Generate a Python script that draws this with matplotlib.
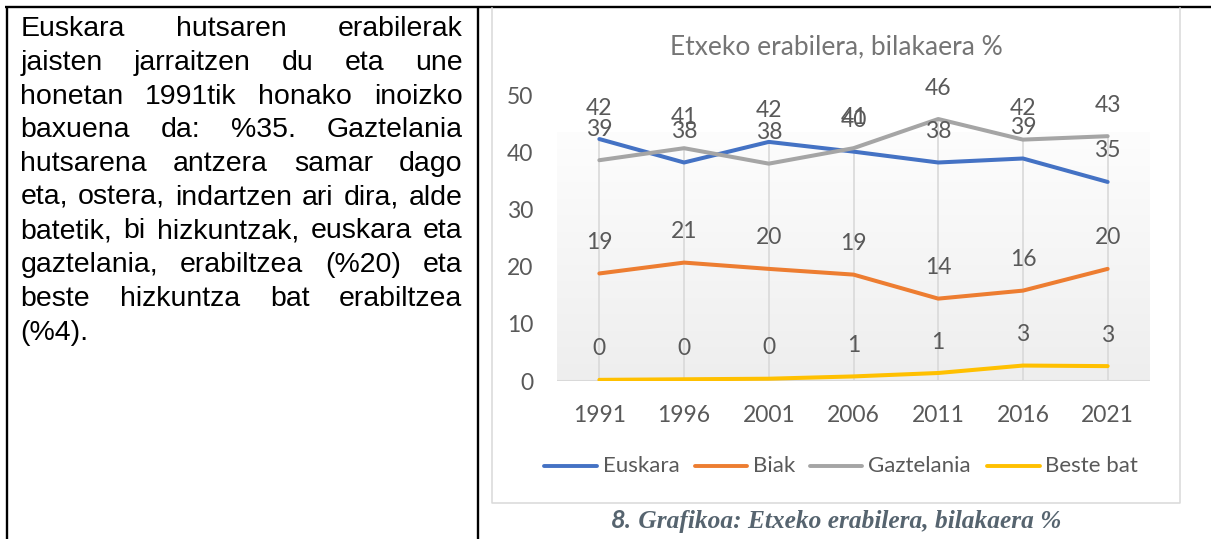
import numpy as np
import matplotlib
matplotlib.use("Agg")
import matplotlib.pyplot as plt
from matplotlib.lines import Line2D
from matplotlib.colors import to_rgb

# ---------------- data ----------------
years = ["1991", "1996", "2001", "2006", "2011", "2016", "2021"]
series_names = ["Euskara", "Biak", "Gaztelania", "Beste bat"]
euskara = [42.3, 38.2, 41.8, 40.1, 38.2, 38.9, 34.8]
biak = [18.8, 20.7, 19.6, 18.6, 14.4, 15.8, 19.6]
gaztelania = [38.6, 40.7, 38.0, 40.7, 45.8, 42.2, 42.8]
beste_bat = [0.2, 0.3, 0.4, 0.8, 1.4, 2.7, 2.6]
yticks = [0, 10, 20, 30, 40, 50]
chart_title = "Etxeko erabilera, bilakaera %"
caption_num = "8."
caption_text = " Grafikoa: Etxeko erabilera, bilakaera %"
body_lines = [
    "Euskara hutsaren erabilerak",
    "jaisten jarraitzen du eta une",
    "honetan 1991tik honako inoizko",
    "baxuena da: %35. Gaztelania",
    "hutsarena antzera samar dago",
    "eta, ostera, indartzen ari dira, alde",
    "batetik, bi hizkuntzak, euskara eta",
    "gaztelania, erabiltzea (%20) eta",
    "beste hizkuntza bat erabiltzea",
    "(%4).",
]

colors = ["#4472C4", "#ED7D31", "#A5A5A5", "#FFC000"]
all_series = [euskara, biak, gaztelania, beste_bat]

W, H = 1211, 539
fig = plt.figure(figsize=(W / 100, H / 100), dpi=100)
fig.patch.set_facecolor("white")

# overlay axes in pixel coordinates
ov = fig.add_axes([0, 0, 1, 1])
ov.set_xlim(0, W)
ov.set_ylim(H, 0)
ov.axis("off")
ov.set_zorder(5)
ov.patch.set_alpha(0)

# table lines
tbl_lw = 1.7
ov.plot([5, W], [6.5, 6.5], color="black", lw=tbl_lw, solid_capstyle="butt")
ov.plot([6.5, 6.5], [5.5, H], color="black", lw=tbl_lw, solid_capstyle="butt")
ov.plot([477.5, 477.5], [5.5, H], color="black", lw=tbl_lw, solid_capstyle="butt")

# chart frame
ov.plot([492, 492, 1180, 1180], [8, 503, 503, 8], color="#D9D9D9", lw=1.1)

# body text (justified)
renderer = fig.canvas.get_renderer()
body_font = dict(fontsize=20.5, family="Liberation Sans", color="black")
x0, x1 = 20.5, 462.5
y_base0, dy = 36.2, 33.7
for i, line in enumerate(body_lines):
    y = y_base0 + i * dy
    words = line.split()
    if i == len(body_lines) - 1 or len(words) == 1:
        ov.text(x0, y, line, va="baseline", ha="left", **body_font)
        continue
    widths = []
    for w in words:
        t = ov.text(0, 0, w, **body_font)
        widths.append(t.get_window_extent(renderer).width)
        t.remove()
    gap = (x1 - x0 - sum(widths)) / (len(words) - 1)
    x = x0
    for w, wd in zip(words, widths):
        ov.text(x, y, w, va="baseline", ha="left", **body_font)
        x += wd + gap

# chart title
ov.text(836, 47, chart_title, ha="center", va="center", fontsize=19,
        family="Lato", color="#757575")

# legend
leg_items = [(544, 597, 603), (695, 747, 753), (810, 862, 868), (987, 1040, 1045)]
for (lx0, lx1, tx), name, c in zip(leg_items, series_names, colors):
    ov.add_line(Line2D([lx0, lx1], [466, 466], color=c, lw=2.8, solid_capstyle="round"))
    ov.text(tx, 466, name, ha="left", va="center", fontsize=16, family="Lato",
            color="#595959")

# caption
cap_font_color = "#56646F"
cap_fs = 18.3
t1 = ov.text(0, 0, caption_num, fontsize=cap_fs, family="Lato", fontweight="bold",
             style="italic", color=cap_font_color)
t2 = ov.text(0, 0, caption_text, fontsize=cap_fs, family="Liberation Serif",
             fontweight="bold", style="italic", color=cap_font_color)
w1 = t1.get_window_extent(renderer).width
w2 = t2.get_window_extent(renderer).width
t1.remove(); t2.remove()
cx0 = 836 - (w1 + w2) / 2
cap_y = 528
ov.text(cx0, cap_y, caption_num, ha="left", va="baseline", fontsize=cap_fs, family="Lato",
        fontweight="bold", style="italic", color=cap_font_color)
ov.text(cx0 + w1, cap_y, caption_text, ha="left", va="baseline", fontsize=cap_fs,
        family="Liberation Serif", fontweight="bold", style="italic", color=cap_font_color)

# ---------------- chart axes ----------------
pl, pr, pt, pb = 557, 1150, 95, 381
ax = fig.add_axes([pl / W, (H - pb) / H, (pr - pl) / W, (pb - pt) / H])
ax.set_zorder(3)
ax.patch.set_alpha(0)
xs = np.arange(len(years))
ax.set_xlim(-0.5, len(years) - 0.5)
ax.set_ylim(0, 50)

# gradient plot-area fill
top_c = np.array(to_rgb("#FDFDFD"))
bot_c = np.array(to_rgb("#EEEEEE"))
grad = np.linspace(0, 1, 256)[:, None]
img = top_c[None, None, :] * (1 - grad[..., None]) + bot_c[None, None, :] * grad[..., None]
img = np.repeat(img, 2, axis=1)
ax.imshow(img, extent=(-0.5, len(years) - 0.5, 0, 43.4), aspect="auto", zorder=0,
          interpolation="bilinear")

# drop lines
tops = np.max(np.array(all_series), axis=0)
ax.vlines(xs, 0, tops, color="#D9D9D9", lw=1.2, zorder=1)
ax.axhline(0, color="#D9D9D9", lw=1.5, zorder=1)

for vals, c in zip(all_series, colors):
    ax.plot(xs, vals, color=c, lw=2.9, solid_capstyle="round", solid_joinstyle="round",
            zorder=3)
    for xi, v in zip(xs, vals):
        ax.annotate(f"{v:.0f}", (xi, v), xytext=(0, 22.3), textcoords="offset points",
                    ha="center", va="center", fontsize=16.5, family="Lato",
                    color="#595959", zorder=4, annotation_clip=False)

for s in ax.spines.values():
    s.set_visible(False)
ax.set_xticks(xs)
ax.set_xticklabels(years)
ax.set_yticks(yticks)
ax.tick_params(axis="both", length=0, labelsize=16.5, labelcolor="#595959")
ax.tick_params(axis="y", pad=17)
ax.tick_params(axis="x", pad=17)
for lab in ax.get_xticklabels() + ax.get_yticklabels():
    lab.set_family("Lato")

fig.savefig("out.png", dpi=100, facecolor="white")
